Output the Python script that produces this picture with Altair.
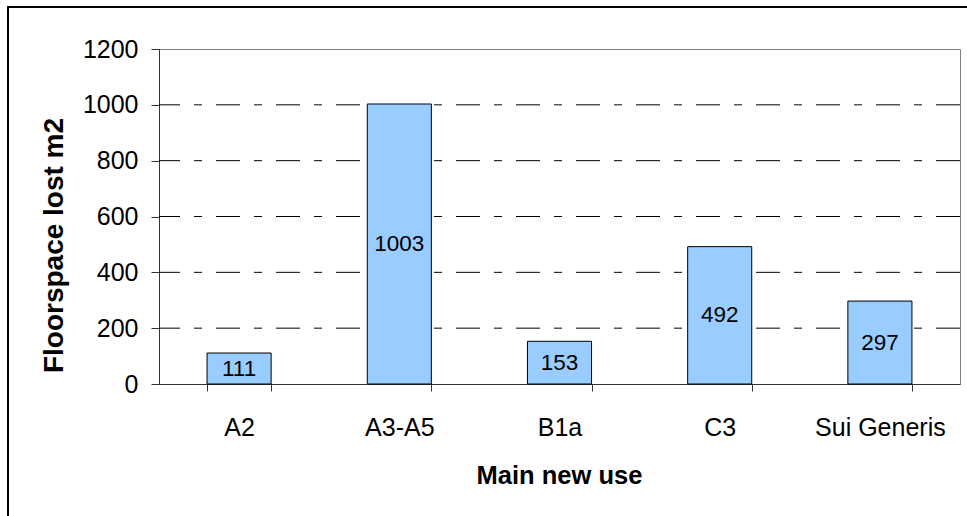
import altair as alt
import pandas as pd

# Floorspace lost, by main new use of the premises
uses = ["A2", "A3-A5", "B1a", "C3", "Sui Generis"]
floorspace_lost = [111, 1003, 153, 492, 297]

# Value axis ticks and the dashed reference lines between them
y_ticks = [0, 200, 400, 600, 800, 1000, 1200]
grid_levels = [200, 400, 600, 800, 1000]

bars_df = pd.DataFrame({"use": uses, "lost": floorspace_lost})
grid_df = pd.DataFrame({"level": grid_levels})

FONT = "Liberation Sans"
PLOT_W, PLOT_H = 801, 335
PAD = {"left": 159, "top": 49, "right": 7, "bottom": 132}

y_scale = alt.Scale(domain=[0, 1200], nice=False)
y_axis = alt.Axis(
    title="Floorspace lost m2",
    values=y_ticks,
    format="d",
    grid=False,
    labelFont=FONT,
    labelFontSize=25,
    labelColor="black",
    labelPadding=13,
    tickSize=8,
    tickColor="#333333",
    domainColor="#333333",
    titleFont=FONT,
    titleFontSize=28,
    titleFontWeight="bold",
    titleColor="black",
    titleAngle=270,
    titleX=-97,
    titleY=196,
    titleAlign="center",
    titleBaseline="alphabetic",
)

x_enc = alt.X(
    "use:N",
    sort=uses,
    scale=alt.Scale(paddingInner=0.6, paddingOuter=0.3),
    axis=alt.Axis(
        title="Main new use",
        labelAngle=0,
        labelFont=FONT,
        labelFontSize=25,
        labelColor="black",
        labelBaseline="alphabetic",
        labelPadding=44,
        tickSize=7,
        tickBand="extent",
        tickColor="#333333",
        domainColor="#333333",
        titleFont=FONT,
        titleFontSize=25.5,
        titleFontWeight="bold",
        titleColor="black",
        titleX=400,
        titleY=99,
        titleAlign="center",
        titleBaseline="alphabetic",
    ),
)

# Outer frame of the chart area
frame = alt.Chart(alt.Data(values=[{}])).mark_rect(
    fill=None, stroke="black", strokeWidth=2
).encode(
    x=alt.value(-151),
    y=alt.value(-42),
    x2=alt.value(PLOT_W + 40),
    y2=alt.value(PLOT_H + 160),
)

grid = alt.Chart(grid_df).mark_rule(
    color="black", strokeWidth=1, strokeDash=[24, 14, 8, 14]
).encode(
    y=alt.Y("level:Q", scale=y_scale, axis=y_axis),
)

bars = alt.Chart(bars_df).mark_bar(
    color="#99CCFF", stroke="black", strokeWidth=1
).encode(
    x=x_enc,
    y=alt.Y("lost:Q", scale=y_scale, axis=y_axis),
)

labels = alt.Chart(bars_df).transform_calculate(
    mid="datum.lost / 2"
).mark_text(
    font=FONT, fontSize=22.5, color="black", baseline="middle", align="center"
).encode(
    x=x_enc,
    y=alt.Y("mid:Q", scale=y_scale, axis=y_axis),
    text=alt.Text("lost:Q"),
)

chart = alt.layer(frame, grid, bars, labels).properties(
    width=PLOT_W,
    height=PLOT_H,
    autosize=alt.AutoSizeParams(type="none"),
    padding=PAD,
    background="white",
).configure_view(
    stroke="#808080", strokeWidth=1
)

chart.save("out.html", embed_options={"renderer": "svg", "actions": False})
